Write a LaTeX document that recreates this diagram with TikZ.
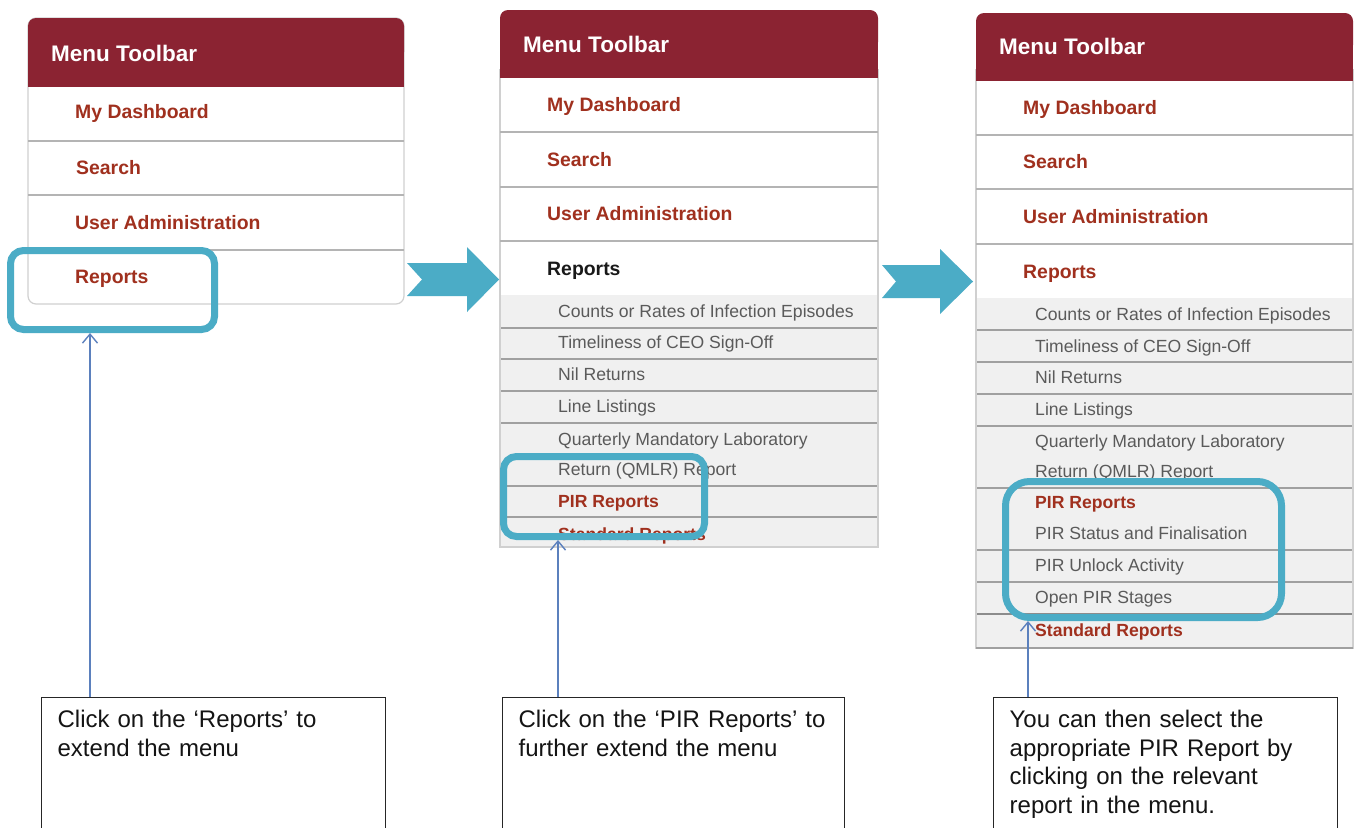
\documentclass[tikz,border=0pt]{standalone}
\usepackage{fontspec}
\setmainfont{Liberation Sans}
\usetikzlibrary{arrows.meta}
\definecolor{hdrred}{HTML}{8B2332}
\definecolor{itemred}{HTML}{A0301E}
\definecolor{subgray}{HTML}{5A5A5A}
\definecolor{subbg}{HTML}{F0F0F0}
\definecolor{sepgray}{HTML}{B4B4B4}
\definecolor{subsep}{HTML}{A0A0A0}
\definecolor{hlblue}{HTML}{4BACC6}
\definecolor{ptrblue}{HTML}{5B80BD}
\definecolor{panelline}{HTML}{D0D0D0}
\tikzset{
  hdrtext/.style={anchor=base west, inner sep=0, text=white, font=\bfseries\fontsize{22.5}{26}\selectfont},
  mitem/.style={anchor=base west, inner sep=0, text=itemred, font=\bfseries\fontsize{19.4}{23}\selectfont},
  sitem/.style={anchor=base west, inner sep=0, text=subgray, font=\fontsize{17.6}{21}\selectfont},
  sitemb/.style={anchor=base west, inner sep=0, text=itemred, font=\bfseries\fontsize{17.6}{21}\selectfont},
  msep/.style={draw=sepgray, line width=1.5},
  ssep/.style={draw=subsep, line width=1.2},
  panelbody/.style={draw=panelline, line width=1.2, fill=white},
  hlbox/.style={draw=hlblue, line width=7, rounded corners=#1, inner sep=0, fill=none},
  bigarrow/.style={fill=hlblue},
  callout/.style={draw=black!85, line width=1.3, anchor=north west, inner xsep=16, inner ysep=10,
    text depth=140, align=left, text=black!92, font=\fontsize{24}{28.5}\selectfont},
  pointer/.style={draw=ptrblue, line width=1.4, -{Straight Barb[length=9pt,width=15pt]}}
}
\begin{document}
\begin{tikzpicture}[x=1pt,y=-1pt]
\useasboundingbox (0,0) rectangle (1359,827);
\fill[white] (0,0) rectangle (1359,827);

% ---------- Panel 1 ----------
\draw[panelbody, rounded corners=8] (28,18) rectangle (404,304);
\fill[hdrred, rounded corners=8] (28,18) rectangle (404,60);
\fill[hdrred] (28,45) rectangle (404,87);
\draw[msep] (28,141) -- (404,141);
\draw[msep] (28,195) -- (404,195);
\draw[msep] (28,250) -- (404,250);
\node[hdrtext] (a0) at (51,61) {Menu Toolbar};
\node[mitem] (a1) at (75,118) {My Dashboard};
\node[mitem] (a2) at (76,174) {Search};
\node[mitem] (a3) at (75,229) {User Administration};
\node[mitem] (a4) at (75,283) {Reports};

% ---------- Panel 2 ----------
\draw[panelbody] (500,70) rectangle (878,547);
\fill[hdrred, rounded corners=8] (500,10) rectangle (878,50);
\fill[hdrred] (500,35) rectangle (878,78);
\fill[subbg] (500,295) rectangle (878,547);
\draw[msep] (500,132) -- (878,132);
\draw[msep] (500,187) -- (878,187);
\draw[msep] (500,241) -- (878,241);
\foreach \yy in {328,359,391,423,486,517} \draw[ssep] (500,\yy) -- (878,\yy);
\draw[draw=panelline, line width=1.2] (500,295) -- (500,547) -- (878,547) -- (878,295);
\node[hdrtext] (b0) at (523,52) {Menu Toolbar};
\node[mitem] (b1) at (547,111) {My Dashboard};
\node[mitem] (b2) at (547,166) {Search};
\node[mitem] (b3) at (547,220) {User Administration};
\node[mitem, text=black!90] (b4) at (547,275) {Reports};
\node[sitem] (b5) at (558,317) {Counts or Rates of Infection Episodes};
\node[sitem] (b6) at (558,348) {Timeliness of CEO Sign-Off};
\node[sitem] (b7) at (558,380) {Nil Returns};
\node[sitem] (b8) at (558,412) {Line Listings};
\node[sitem] (b9) at (558,445) {Quarterly Mandatory Laboratory};
\node[sitem] (b10) at (558,475) {Return (QMLR) Report};
\node[sitemb] (b11) at (558,507) {PIR Reports};
\node[sitemb] (b12) at (558,540) {Standard Reports};

% ---------- Panel 3 ----------
\draw[panelbody] (976,70) rectangle (1353,648);
\fill[hdrred, rounded corners=8] (976,13) rectangle (1353,53);
\fill[hdrred] (976,38) rectangle (1353,81);
\fill[subbg] (976,298) rectangle (1353,648);
\draw[msep] (976,135) -- (1353,135);
\draw[msep] (976,189) -- (1353,189);
\draw[msep] (976,244) -- (1353,244);
\foreach \yy in {330,362,394,426,488,550,582} \draw[ssep] (976,\yy) -- (1353,\yy);
\draw[draw=black!45, line width=2] (976,614) -- (1353,614);
\draw[draw=panelline, line width=1.2] (976,298) -- (976,648) -- (1353,648) -- (1353,298);
\draw[ssep] (976,648) -- (1353,648);
\node[hdrtext] (d0) at (999,54) {Menu Toolbar};
\node[mitem] (d1) at (1023,114) {My Dashboard};
\node[mitem] (d2) at (1023,168) {Search};
\node[mitem] (d3) at (1023,223) {User Administration};
\node[mitem] (d4) at (1023,278) {Reports};
\node[sitem] (d5) at (1035,320) {Counts or Rates of Infection Episodes};
\node[sitem] (d6) at (1035,352) {Timeliness of CEO Sign-Off};
\node[sitem] (d7) at (1035,383) {Nil Returns};
\node[sitem] (d8) at (1035,415) {Line Listings};
\node[sitem] (d9) at (1035,447) {Quarterly Mandatory Laboratory};
\node[sitem] (d10) at (1035,477) {Return (QMLR) Report};
\node[sitemb] (d11) at (1035,508) {PIR Reports};
\node[sitem] (d12) at (1035,539) {PIR Status and Finalisation};
\node[sitem] (d13) at (1035,571) {PIR Unlock Activity};
\node[sitem] (d14) at (1035,603) {Open PIR Stages};
\node[sitemb] (d15) at (1035,636) {Standard Reports};

% ---------- Highlight boxes ----------
\node[hlbox=13, minimum width=204, minimum height=79] (h1) at (112.5,290) {};
\node[hlbox=13, minimum width=201, minimum height=80] (h2) at (604,496.5) {};
\node[hlbox=24, minimum width=276, minimum height=136] (h3) at (1143.5,549.5) {};

% ---------- Big arrows ----------
\fill[bigarrow] (407,263) -- (467,263) -- (467,247) -- (499,279.5) -- (467,312) -- (467,296) -- (407,296) -- (422,279.5) -- cycle;
\fill[bigarrow] (882,265) -- (940,265) -- (940,249) -- (973,281.5) -- (940,314) -- (940,298) -- (882,298) -- (896,281.5) -- cycle;

% ---------- Callouts ----------
\node[callout, text width=312] (c1) at (41,697) {\strut Click on the ‘Reports’ to\\extend the menu};
\node[callout, text width=310] (c2) at (502,697) {\strut Click on the ‘PIR Reports’ to\\further extend the menu};
\node[callout, text width=312] (c3) at (993,697) {\strut You can then select the\\appropriate PIR Report by\\clicking on the relevant\\report in the menu.};

\coordinate (x1) at (90,0);
\coordinate (x2) at (558,0);
\coordinate (x3) at (1028,0);
\draw[pointer] (c1.north -| x1) -- (h1.south -| x1);
\draw[pointer] (c2.north -| x2) -- (h2.south -| x2);
\draw[pointer] (c3.north -| x3) -- (h3.south -| x3);
\end{tikzpicture}
\end{document}
